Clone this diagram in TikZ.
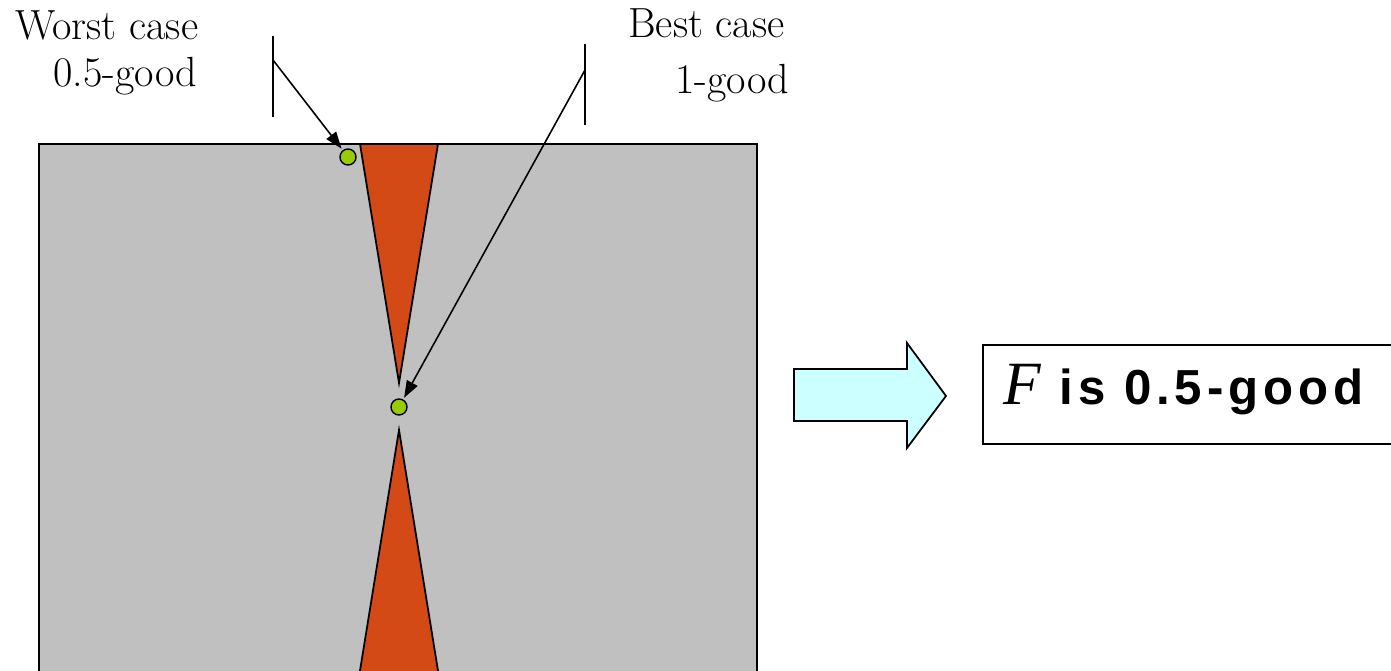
\documentclass[tikz,border=0pt]{standalone}
\usepackage{fontspec}
\newfontfamily\timesfont{Liberation Serif}
\newfontfamily\boxfont[LetterSpace=10]{Liberation Sans}
\usetikzlibrary{arrows.meta}

\definecolor{panelgray}{HTML}{C0C0C0}
\definecolor{wedgered}{HTML}{D34A17}
\definecolor{pointgreen}{HTML}{99CC00}
\definecolor{arrowcyan}{HTML}{CCFFFF}

\tikzset{
  captext/.style={anchor=base west,inner sep=0pt,font=\fontsize{24}{28}\selectfont},
  point/.style={circle,draw,line width=0.8pt,fill=pointgreen,inner sep=0pt,minimum size=0.32cm},
  wedge/.style={draw,line width=1pt,fill=wedgered},
  leader/.style={line width=0.9pt,-{Triangle[length=0.34cm,width=0.24cm]},shorten >=1pt},
}

\begin{document}
\begin{tikzpicture}[x=0.02cm,y=-0.02cm]
  \useasboundingbox (0,0) rectangle (1391,671);
  \begin{scope}
    \clip (0,0) rectangle (1391,671);
    \filldraw[fill=panelgray,line width=1.1pt] (39,144) rectangle (757,720);
    % wedges
    \filldraw[wedge] (360,144) -- (438,144) -- (399,383) -- cycle;
    \filldraw[wedge] (399,430) -- (446,720) -- (352,720) -- cycle;
    \draw[line width=1.1pt] (39,144) -- (757,144);
  \end{scope}
  \node[point] (wdot) at (348,157) {};
  \node[point] (bdot) at (399,407) {};
  % callouts
  \node[captext] (worst) at (15,40) {Worst case};
  \node[captext] (worstval) at (53,87) {0.5-good};
  \node[captext] (best) at (628,38) {Best case};
  \node[captext] (bestval) at (675,94) {1-good};
  \coordinate (wtop) at (273,36);
  \coordinate (wbot) at (273,117);
  \coordinate (wknee) at (273,60);
  \coordinate (btop) at (585,44);
  \coordinate (bbot) at (585,125);
  \coordinate (bknee) at (585,70);
  \draw[line width=0.9pt] (wtop) -- (wbot);
  \draw[line width=0.9pt] (btop) -- (bbot);
  \draw[leader] (wknee) -- (wdot);
  \draw[leader] (bknee) -- (bdot);
  % result
  \filldraw[fill=arrowcyan,line width=1pt] (794,369) -- (907,369) -- (907,343)
    -- (946,396) -- (907,448) -- (907,421) -- (794,421) -- cycle;
  \begin{scope}
    \clip (0,0) rectangle (1391,671);
    \draw[line width=0.9pt] (1400,345) -- (983,345) -- (983,444) -- (1400,444);
  \end{scope}
  \node[anchor=base west,inner sep=0pt] (result) at (1003,405)
    {{\fontsize{35}{38}\timesfont\itshape F}%
     {\fontsize{28}{32}\boxfont\bfseries\upshape\ is 0.5-good}};
\end{tikzpicture}
\end{document}
